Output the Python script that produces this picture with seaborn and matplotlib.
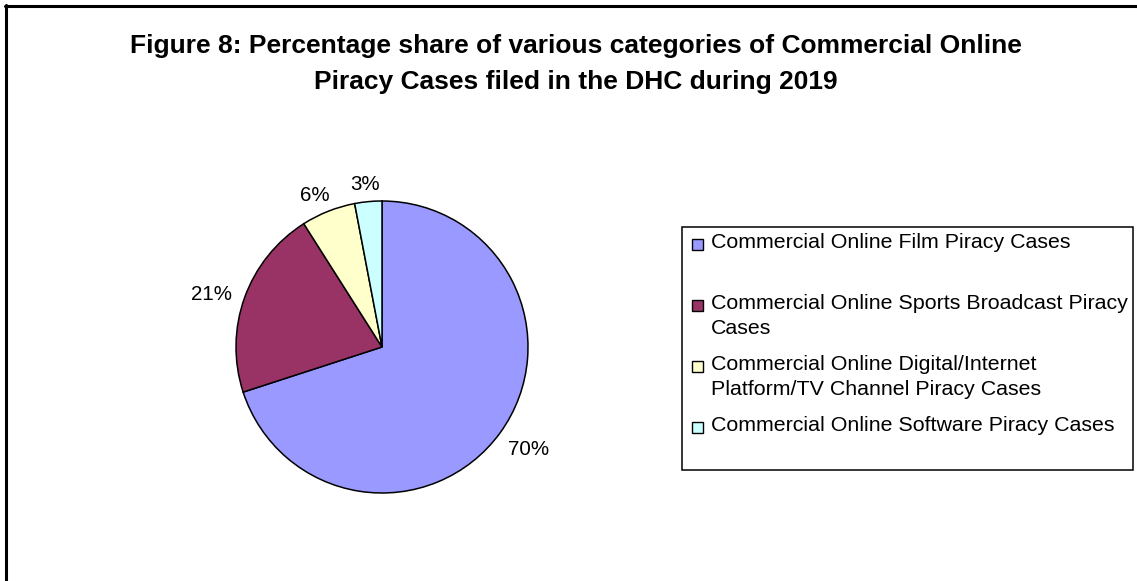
import numpy as np
import matplotlib
matplotlib.use("Agg")
import matplotlib.pyplot as plt
from matplotlib.patches import Rectangle
import seaborn as sns

# Case categories and their percentage share
categories = [
    "Commercial Online Film Piracy Cases",
    "Commercial Online Sports Broadcast Piracy\nCases",
    "Commercial Online Digital/Internet\nPlatform/TV Channel Piracy Cases",
    "Commercial Online Software Piracy Cases",
]
shares = [70, 21, 6, 3]
slice_colors = ["#9999FF", "#993366", "#FFFFCC", "#CCFFFF"]
title_lines = [
    "Figure 8: Percentage share of various categories of Commercial Online",
    "Piracy Cases filed in the DHC during 2019",
]

sns.set_theme(style="white")
plt.rcParams["font.family"] = ["Liberation Sans", "DejaVu Sans"]

W, H = 1137, 581
fig = plt.figure(figsize=(W / 100, H / 100), dpi=100)


def fx(px):
    return px / W


def fy(py):
    return 1 - py / H


# Outer chart border (top and left edges visible)
fig.add_artist(plt.Line2D([fx(5), fx(1137)], [fy(6), fy(6)], color="black", lw=2.2,
                          transform=fig.transFigure))
fig.add_artist(plt.Line2D([fx(6), fx(6)], [fy(5), fy(581)], color="black", lw=2.2,
                          transform=fig.transFigure))

# Two-line bold title
for line, ty in zip(title_lines, [43, 80]):
    fig.text(fx(576), fy(ty), line, ha="center", va="center_baseline",
             fontsize=19, fontweight="bold", color="black")

# Pie axes: centre at (382, 347) px, radius 146 px
R = 146
cx, cy = 382, 347
half = 200
ax = fig.add_axes([fx(cx - half), fy(cy + half), 2 * half / W, 2 * half / H])
palette = sns.color_palette(slice_colors)
wedges, _ = ax.pie(shares, colors=palette, startangle=90, counterclock=False,
                   radius=1.0, wedgeprops=dict(edgecolor="black", linewidth=1.1))
lim = half / R
ax.set_xlim(-lim, lim)
ax.set_ylim(-lim, lim)
ax.set_aspect("equal")
ax.axis("off")

# Percentage labels outside each slice
for w, v in zip(wedges, shares):
    mid = np.deg2rad((w.theta1 + w.theta2) / 2)
    c, s = np.cos(mid), np.sin(mid)
    ax.annotate(f"{v}%", xy=(1.1 * c, 1.1 * s), xytext=(15 * c, 5 * s - 3),
                textcoords="offset points", ha="center", va="center",
                fontsize=14.8, color="black", annotation_clip=False)

# Legend box
fig.add_artist(Rectangle((fx(682), fy(470)), fx(1133) - fx(682), fy(227) - fy(470),
                         transform=fig.transFigure, facecolor="white",
                         edgecolor="black", lw=1.1))
for i, (lab, col) in enumerate(zip(categories, palette)):
    y0 = 244 + 61 * i
    fig.add_artist(Rectangle((fx(692), fy(y0 + 5.5)), 11 / W, 11 / H,
                             transform=fig.transFigure, facecolor=col,
                             edgecolor="black", lw=1.0))
    fig.text(fx(711), fy(y0 - 11), lab, ha="left", va="top", fontsize=15.4,
             linespacing=1.4, color="black")

fig.savefig("out.png", dpi=100, facecolor="white")
